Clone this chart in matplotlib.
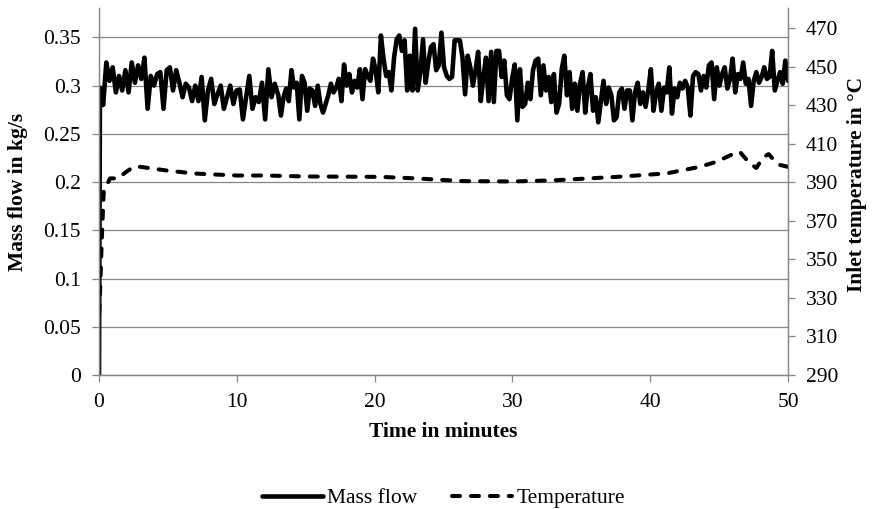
import numpy as np
import matplotlib
matplotlib.use("Agg")
import matplotlib.pyplot as plt
from matplotlib.ticker import FixedLocator

plt.rcParams['font.family'] = ['Liberation Serif', 'DejaVu Serif']

# mass flow in kg/s in four pieces (start, end minute of each piece)
flow_start = [0.0]
flow_seg1 = [0.298, 0.28, 0.324, 0.305, 0.319, 0.293, 0.31, 0.295, 0.316, 0.293,
             0.324, 0.303, 0.321, 0.307, 0.329, 0.276, 0.31, 0.30, 0.312, 0.314,
             0.276, 0.316, 0.319, 0.295, 0.316, 0.303, 0.288, 0.302, 0.298, 0.284,
             0.30, 0.284, 0.309, 0.264, 0.295, 0.307, 0.281, 0.291, 0.30, 0.276,
             0.288, 0.30, 0.281, 0.295, 0.296, 0.265, 0.288, 0.31, 0.276, 0.288,
             0.283, 0.303, 0.265, 0.317, 0.288, 0.302]
flow_seg2 = [0.29, 0.269, 0.288, 0.297, 0.284, 0.316, 0.298, 0.303, 0.265, 0.31,
             0.303, 0.274, 0.297, 0.295, 0.279, 0.30, 0.281, 0.272, 0.281, 0.29,
             0.302, 0.293, 0.298, 0.307, 0.284, 0.322, 0.30, 0.312, 0.293, 0.305,
             0.298, 0.317, 0.286, 0.317, 0.31, 0.305, 0.328, 0.316, 0.293, 0.352,
             0.328, 0.31, 0.314, 0.295, 0.329, 0.348, 0.352, 0.336, 0.347, 0.295,
             0.331, 0.295, 0.359, 0.295, 0.314, 0.348, 0.303, 0.324, 0.34, 0.343,
             0.316, 0.321, 0.355, 0.319]
flow_seg3 = [0.31, 0.307, 0.309, 0.347, 0.347, 0.347, 0.329, 0.291, 0.331, 0.319,
             0.30, 0.316, 0.335, 0.284, 0.309, 0.329, 0.284, 0.335, 0.283, 0.336,
             0.336, 0.309, 0.326, 0.29, 0.286, 0.307, 0.322, 0.264, 0.317, 0.278,
             0.281, 0.303, 0.286, 0.316, 0.326, 0.328, 0.29, 0.321, 0.295, 0.309,
             0.283, 0.312, 0.272, 0.281, 0.317, 0.331, 0.29, 0.314, 0.276, 0.302,
             0.274, 0.302, 0.314, 0.272, 0.298, 0.312, 0.274, 0.288, 0.262, 0.284,
             0.305, 0.281, 0.298, 0.29, 0.264]
flow_seg4 = [0.267, 0.293, 0.297, 0.276, 0.295, 0.295, 0.264, 0.293, 0.303, 0.281,
             0.293, 0.278, 0.295, 0.317, 0.274, 0.293, 0.302, 0.274, 0.298, 0.293,
             0.319, 0.271, 0.297, 0.288, 0.303, 0.297, 0.305, 0.298, 0.269, 0.31,
             0.314, 0.312, 0.295, 0.31, 0.298, 0.321, 0.324, 0.286, 0.319, 0.30,
             0.312, 0.319, 0.297, 0.307, 0.328, 0.293, 0.312, 0.307, 0.324, 0.302,
             0.307, 0.279, 0.305, 0.314, 0.303, 0.309, 0.319, 0.307, 0.309, 0.336,
             0.295, 0.305, 0.314, 0.302, 0.326, 0.305]
seg_spans = [(0.07, 12.75), (13.01, 25.04), (25.24, 37.37), (37.56, 50.0)]

# inlet temperature in degC
temp_minutes = [0, 0.05, 0.2, 0.35, 0.6, 0.8, 1.4, 1.9, 2.5, 3.0, 5, 7, 10, 12, 15,
                20.4, 23, 26.4, 30, 33, 37.6, 41.2, 43.6, 44.8, 46.0, 46.5, 47.2,
                47.7, 48.2, 48.6, 49.1, 49.4, 50]
temp_values = [322, 327, 360, 386, 389, 392, 392, 395, 398, 398, 396, 394.5, 393.5,
               393.5, 393, 392.8, 392, 390.6, 390.4, 391, 392.8, 394.6, 398, 400.6,
               404.6, 405.8, 400, 397.4, 403, 404.6, 400.5, 399, 398]

left_ticks = [0, 0.05, 0.1, 0.15, 0.2, 0.25, 0.3, 0.35]
left_labels = ['0', '0.05', '0.1', '0.15', '0.2', '0.25', '0.3', '0.35']
right_ticks = [290, 310, 330, 350, 370, 390, 410, 430, 450, 470]
x_ticks = [0, 10, 20, 30, 40, 50]

flow = np.concatenate([flow_start, flow_seg1, flow_seg2, flow_seg3, flow_seg4])
minutes = [np.array([0.0])]
for seg, (a, b) in zip([flow_seg1, flow_seg2, flow_seg3, flow_seg4], seg_spans):
    minutes.append(np.linspace(a, b, len(seg)))
minutes = np.concatenate(minutes)

grey = '#878787'
fs = 15.5

fig = plt.figure(figsize=(8.72, 5.09), dpi=100)
ax = fig.add_axes([99/872, 1-375/509, 689/872, 367/509])
ax2 = ax.twinx()

ax.plot(minutes, flow, color='black', lw=3.3, solid_joinstyle='round',
        solid_capstyle='round', label='Mass flow')
ax2.plot(temp_minutes, temp_values, color='black', lw=2.9, linestyle=(0, (2.0, 2.7)),
         dash_capstyle='round', label='Temperature')

ax.set_xlim(0, 50)
ax.set_ylim(0, 0.3805)
ax2.set_ylim(290, 480.4)

ax.yaxis.set_major_locator(FixedLocator(left_ticks))
ax.set_yticklabels(left_labels)
ax2.yaxis.set_major_locator(FixedLocator(right_ticks))
ax.xaxis.set_major_locator(FixedLocator(x_ticks))

ax.grid(axis='y', color=grey, lw=0.9)
ax.set_axisbelow(True)

for a in (ax, ax2):
    a.spines['top'].set_visible(False)
    for s in ('left', 'right', 'bottom'):
        a.spines[s].set_color(grey)
        a.spines[s].set_linewidth(0.9)
    a.tick_params(direction='out', length=5, width=0.9, color=grey,
                  labelsize=fs, pad=8)

ax.set_xlabel('Time in minutes', fontsize=fs, fontweight='bold')
ax.xaxis.set_label_coords(0.5, -0.128)
ax.set_ylabel('Mass flow in kg/s', fontsize=fs, fontweight='bold')
ax.yaxis.set_label_coords(-0.103, 0.5)
ax2.set_ylabel('Inlet temperature in \u00b0C', fontsize=fs, fontweight='bold')
ax2.yaxis.set_label_coords(1.0856, 0.52)

h1, l1 = ax.get_legend_handles_labels()
h2, l2 = ax2.get_legend_handles_labels()
fig.legend(h1 + h2, l1 + l2, loc='center', bbox_to_anchor=(443.5/872, 1-498/509),
           ncol=2, frameon=False, fontsize=fs, handlelength=2.8,
           handletextpad=0.2, columnspacing=1.6)

fig.savefig('out.png', dpi=100)
